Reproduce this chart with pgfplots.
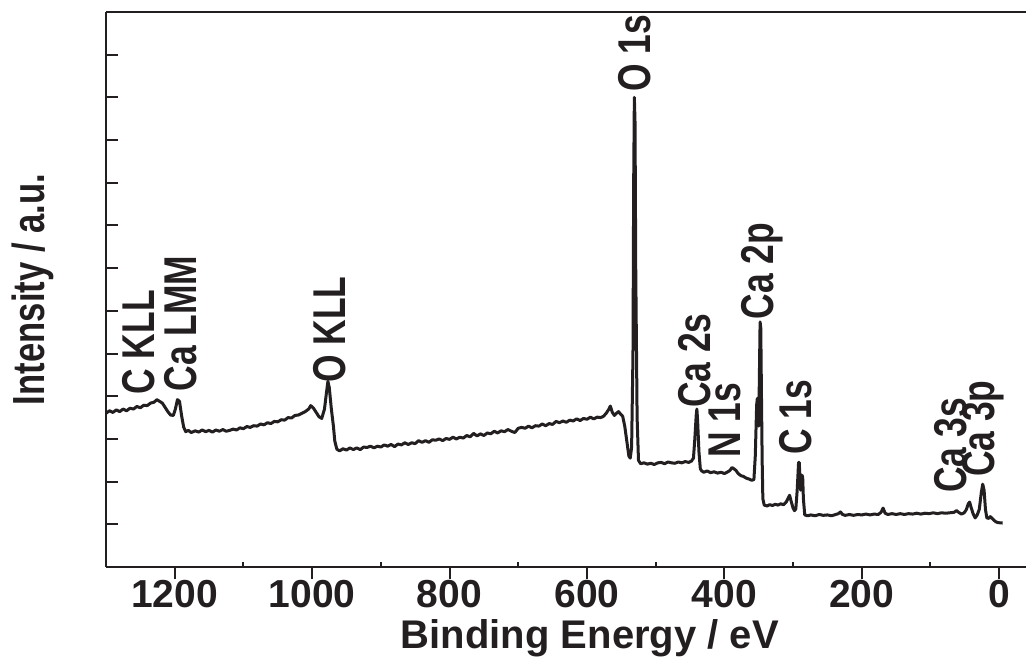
\documentclass[border=0pt]{standalone}
\usepackage{fontspec}
\setmainfont{Liberation Sans}
\newfontfamily\condfont{Liberation Sans}[FakeStretch=0.77]
\usepackage{pgfplots}
\pgfplotsset{compat=1.18}
\definecolor{ink}{HTML}{231F20}

\pgfplotstableread{
be   cps
1300 3.60
1295 3.66
1290 3.62
1285 3.68
1280 3.64
1275 3.70
1270 3.66
1265 3.72
1260 3.70
1255 3.76
1250 3.73
1245 3.79
1240 3.78
1235 3.84
1230 3.86
1226 3.92
1222 3.88
1218 3.84
1214 3.74
1210 3.64
1206 3.56
1202 3.55
1199 3.70
1196 3.92
1193 3.88
1190 3.55
1187 3.28
1184 3.17
1180 3.20
1176 3.15
1170 3.19
1165 3.16
1160 3.21
1155 3.17
1150 3.20
1145 3.16
1140 3.21
1135 3.18
1130 3.22
1125 3.18
1120 3.20
1115 3.23
1110 3.21
1105 3.26
1100 3.24
1095 3.29
1090 3.27
1085 3.31
1080 3.30
1075 3.35
1070 3.33
1065 3.38
1060 3.36
1055 3.41
1050 3.40
1045 3.45
1040 3.44
1035 3.50
1030 3.49
1025 3.55
1020 3.56
1015 3.60
1010 3.64
1005 3.70
1002 3.78
998  3.72
994  3.62
990  3.52
986  3.48
982  3.70
979  4.10
977  4.35
975  4.20
972  3.70
969  3.30
967  2.95
964  2.76
960  2.72
955  2.77
950  2.74
945  2.79
940  2.75
935  2.79
930  2.75
925  2.81
920  2.80
915  2.83
910  2.79
905  2.83
900  2.81
895  2.86
890  2.83
885  2.87
880  2.82
875  2.88
870  2.86
865  2.91
860  2.87
855  2.91
850  2.89
845  2.96
840  2.92
835  2.96
830  2.92
825  2.98
820  2.97
815  3.00
810  2.96
805  3.01
800  2.99
795  3.04
790  3.00
785  3.04
780  3.02
775  3.08
770  3.05
765  3.13
760  3.07
755  3.12
750  3.08
745  3.14
740  3.12
735  3.18
730  3.14
725  3.19
720  3.17
715  3.22
710  3.18
705  3.15
700  3.25
695  3.27
690  3.25
685  3.30
680  3.26
675  3.31
670  3.30
665  3.35
660  3.31
655  3.36
650  3.34
645  3.41
640  3.38
635  3.42
630  3.39
625  3.44
620  3.42
615  3.47
610  3.43
605  3.48
600  3.46
595  3.51
590  3.47
585  3.51
580  3.50
576  3.53
572  3.60
568  3.70
566  3.77
563  3.62
560  3.55
557  3.60
554  3.64
551  3.58
548  3.53
545  3.30
542  2.95
539  2.60
537  2.55
535  2.80
533  5.00
532  9.00
531  11.00
530  10.40
529  7.00
527  3.50
525  2.50
522  2.42
517  2.44
512  2.41
507  2.43
502  2.40
497  2.44
492  2.45
487  2.42
482  2.46
477  2.44
472  2.43
467  2.46
462  2.44
457  2.47
452  2.45
448  2.48
445  2.55
443  3.00
441  3.55
440  3.70
439  3.45
437  2.70
435  2.30
433  2.25
430  2.22
425  2.25
420  2.21
415  2.23
410  2.20
405  2.22
400  2.19
396  2.22
392  2.26
389  2.33
386  2.30
383  2.26
380  2.19
376  2.14
372  2.12
368  2.08
364  2.06
360  2.03
357  2.05
355  2.60
353  3.80
352  3.95
351  3.70
350  3.30
349  4.50
348  5.74
347  5.60
346  4.00
345  2.50
344  1.60
342  1.45
338  1.43
334  1.46
330  1.44
326  1.47
322  1.45
318  1.48
314  1.46
310  1.52
307  1.62
305  1.68
303  1.55
300  1.38
298  1.32
296  1.36
294  1.80
292  2.45
291  2.45
290  2.10
289  1.80
288  1.90
287  2.15
286  2.10
285  1.60
283  1.22
279  1.20
274  1.22
268  1.20
262  1.23
256  1.21
250  1.22
244  1.20
238  1.23
234  1.25
231  1.29
228  1.23
224  1.21
218  1.23
212  1.21
206  1.23
200  1.22
194  1.24
188  1.22
182  1.24
176  1.23
172  1.28
169  1.38
166  1.26
162  1.23
156  1.25
150  1.23
144  1.25
138  1.23
132  1.25
126  1.24
120  1.26
114  1.24
108  1.26
102  1.25
96   1.27
90   1.25
84   1.27
78   1.26
72   1.27
66   1.28
62   1.32
59   1.28
55   1.24
51   1.27
48   1.34
45   1.48
43   1.52
41   1.40
38   1.25
35   1.15
32   1.22
29   1.35
26   1.75
24   1.94
22   1.80
20   1.35
18   1.15
15   1.14
13   1.18
11   1.15
8    1.10
5    1.06
2    1.04
-5   1.03
}\survey

\begin{document}
\begin{tikzpicture}[font=\bfseries]
\begin{axis}[
 name=ax,
 scale only axis,
 width=460pt,height=277.5pt,
 x dir=reverse,
 xmin=-39,xmax=1300,ymin=0,ymax=13,
 axis x line*=box,axis y line*=left,
 axis line style={ink,line width=1pt},
 clip=false,
 xtick={0,200,...,1200},
 xtick pos=left,
 xtick align=outside,
 major tick length=6pt,
 tick style={ink,line width=1pt},
 extra x ticks={100,300,...,1100},
 extra x tick labels={},
 extra x tick style={xtick align=inside,major tick length=2.5pt},
 ytick={1,...,12},
 yticklabels={},
 ytick pos=left,
 ytick align=inside,
 /pgf/number format/1000 sep={},
 /pgf/number format/assume math mode=true,
 xticklabel style={font=\fontsize{19.5}{21}\selectfont\bfseries,text=ink,yshift=3pt},
 xlabel={Binding Energy / eV},
 ylabel={Intensity / a.u.},
 xlabel style={font=\fontsize{20}{22}\selectfont\bfseries,text=ink,
   at={(axis description cs:0.526,-0.147)},anchor=base},
 ylabel style={font=\condfont\fontsize{22.5}{24}\selectfont\bfseries,text=ink,
   at={(axis description cs:-0.080,0.5)},anchor=center},
]
\addplot[ink,line width=1.5pt,line join=round] table[x=be,y=cps] {\survey};

\begin{scope}[every node/.style={rotate=90,anchor=west,inner sep=0pt,text=ink,
   font=\condfont\fontsize{23}{25}\selectfont\bfseries}]
\node at (axis cs:1253,4.03) {C KLL};
\node at (axis cs:1191,4.10) {Ca LMM};
\node at (axis cs:975,4.31) {O KLL};
\node at (axis cs:531,11.13) {O 1s};
\node at (axis cs:443,3.72) {Ca 2s};
\node at (axis cs:399,2.55) {N 1s};
\node at (axis cs:345,5.79) {Ca 2p};
\node at (axis cs:296,2.62) {C 1s};
\node at (axis cs:71,1.73) {Ca 3s};
\node at (axis cs:23,2.10) {Ca 3p};
\end{scope}
\end{axis}
\pgfresetboundingbox
\path[use as bounding box] ([shift={(-53pt,-46.5pt)}]ax.south west) rectangle ([shift={(0pt,6pt)}]ax.north east);
\end{tikzpicture}
\end{document}
